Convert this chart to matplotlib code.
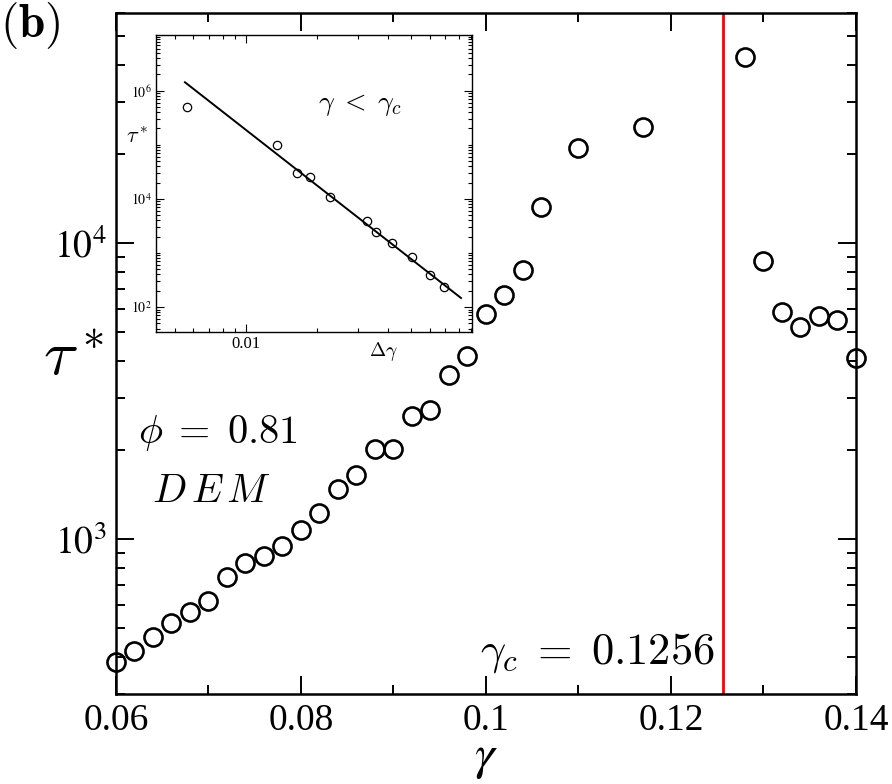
"""Relaxation time tau* vs strain gamma, with power-law inset."""
import numpy as np
import matplotlib
matplotlib.use("Agg")
import matplotlib.pyplot as plt
from matplotlib.ticker import LogLocator, MultipleLocator, NullFormatter, FixedLocator, FixedFormatter

plt.rcParams['font.family'] = ['Liberation Serif', 'DejaVu Serif']
plt.rcParams['mathtext.fontset'] = 'stix'

# main panel data
gamma = [0.060, 0.062, 0.064, 0.066, 0.068, 0.070, 0.072, 0.074, 0.076, 0.078,
         0.080, 0.082, 0.084, 0.086, 0.088, 0.090, 0.092, 0.094, 0.096, 0.098,
         0.100, 0.102, 0.104, 0.106, 0.110, 0.117, 0.128, 0.130, 0.132, 0.134,
         0.136, 0.138, 0.140]
tau = [386, 419, 469, 520, 566, 618, 746, 832, 877, 947,
       1072, 1230, 1474, 1652, 2021, 2021, 2603, 2728, 3590, 4150,
       5765, 6694, 8110, 13250, 21000, 24700, 42600, 8720, 5840, 5190,
       5690, 5480, 4100]
gamma_c = 0.1256

# inset data (delta gamma = gamma_c - gamma)
dgamma = [0.00562, 0.01361, 0.01655, 0.01862, 0.02264, 0.0326, 0.0356,
          0.0416, 0.0505, 0.0604, 0.0692]
tau_in = [5.07e5, 9.9e4, 2.98e4, 2.51e4, 1.1e4, 3.82e3, 2.43e3,
          1.50e3, 826, 395, 231]
fit_dg = [0.00553, 0.0815]
fit_tau = [1.43e6, 147]

fig = plt.figure(figsize=(8.92, 7.84), dpi=100)
ax = fig.add_axes([0.130, 0.1148, 0.8296, 0.869])

ax.plot(gamma, tau, 'o', ms=13, mfc='none', mec='black', mew=1.9, clip_on=False, zorder=3)
ax.axvline(gamma_c, color='red', lw=2.0)

ax.set_yscale('log')
ax.set_xlim(0.06, 0.14)
ax.set_ylim(300, 6e4)
ax.xaxis.set_major_locator(MultipleLocator(0.02))
ax.xaxis.set_minor_locator(MultipleLocator(0.01))
ax.set_xticks([0.06, 0.08, 0.10, 0.12, 0.14])
ax.set_xticklabels(['0.06', '0.08', '0.1', '0.12', '0.14'])
ax.yaxis.set_major_locator(FixedLocator([1e3, 1e4]))
ax.yaxis.set_major_formatter(FixedFormatter([r'$10^3$', r'$10^4$']))
ax.yaxis.set_minor_locator(LogLocator(base=10, subs=np.arange(2, 10)))
ax.yaxis.set_minor_formatter(NullFormatter())
ax.tick_params(which='both', direction='in', top=True, right=True, width=1.4)
ax.tick_params(which='major', length=13, labelsize=27, pad=7)
ax.tick_params(which='minor', length=6.5)
for s in ax.spines.values():
    s.set_linewidth(1.8)

ax.set_xlabel(r'$\gamma$', fontsize=36, labelpad=-3)
ax.set_ylabel(r'$\tau^*$', fontsize=46, rotation=0, math_fontfamily='cm', va='center')
ax.yaxis.set_label_coords(-0.057, 0.49)

ax.text(0.030, 0.368, r'$\phi\;=\;0.81$', transform=ax.transAxes, fontsize=29,
        math_fontfamily='cm', va='baseline')
ax.text(0.049, 0.282, r'$D\,E\,M$', transform=ax.transAxes, fontsize=29,
        math_fontfamily='cm', va='baseline')
ax.text(0.809, 0.045, r'$\gamma_c\;=\;0.1256$', transform=ax.transAxes, fontsize=32,
        math_fontfamily='cm', va='baseline', ha='right')
fig.text(0.0, 1.0, r'$(\mathbf{b})$', fontsize=34, math_fontfamily='cm',
         va='top', ha='left')

# inset
axi = fig.add_axes([0.1746, 0.5769, 0.3549, 0.3785])
axi.plot(dgamma, tau_in, 'o', ms=6, mfc='none', mec='black', mew=0.9)
axi.plot(fit_dg, fit_tau, '-', color='black', lw=1.4)
axi.set_xscale('log')
axi.set_yscale('log')
axi.set_xlim(0.00416, 0.091)
axi.set_ylim(35, 1.07e7)
axi.xaxis.set_major_locator(FixedLocator([0.01]))
axi.xaxis.set_major_formatter(FixedFormatter(['0.01']))
axi.xaxis.set_minor_locator(LogLocator(base=10, subs=np.arange(2, 10)))
axi.xaxis.set_minor_formatter(NullFormatter())
axi.yaxis.set_major_locator(FixedLocator([1e2, 1e4, 1e6]))
axi.yaxis.set_major_formatter(FixedFormatter([r'$10^2$', r'$10^4$', r'$10^6$']))
axi.yaxis.set_minor_locator(LogLocator(base=10, subs=np.arange(1, 10), numticks=20))
axi.yaxis.set_minor_formatter(NullFormatter())
axi.tick_params(which='both', direction='in', top=True, right=True, width=0.8)
axi.tick_params(which='major', length=6, labelsize=10, pad=3)
axi.tick_params(which='minor', length=3)
axi.tick_params(axis='x', which='major', labelsize=12)
for s in axi.spines.values():
    s.set_linewidth(1.0)

axi.text(0.513, 0.747, r'$\gamma\;<\;\gamma_c$', transform=axi.transAxes, fontsize=20,
         math_fontfamily='cm', va='baseline')
axi.text(-0.059, 0.653, r'$\tau^*$', transform=axi.transAxes, fontsize=16,
         math_fontfamily='cm', ha='center', va='center')
axi.text(0.718, -0.068, r'$\Delta\gamma$', transform=axi.transAxes, fontsize=14,
         math_fontfamily='cm', ha='center', va='center')

fig.savefig('out.png', dpi=100)
